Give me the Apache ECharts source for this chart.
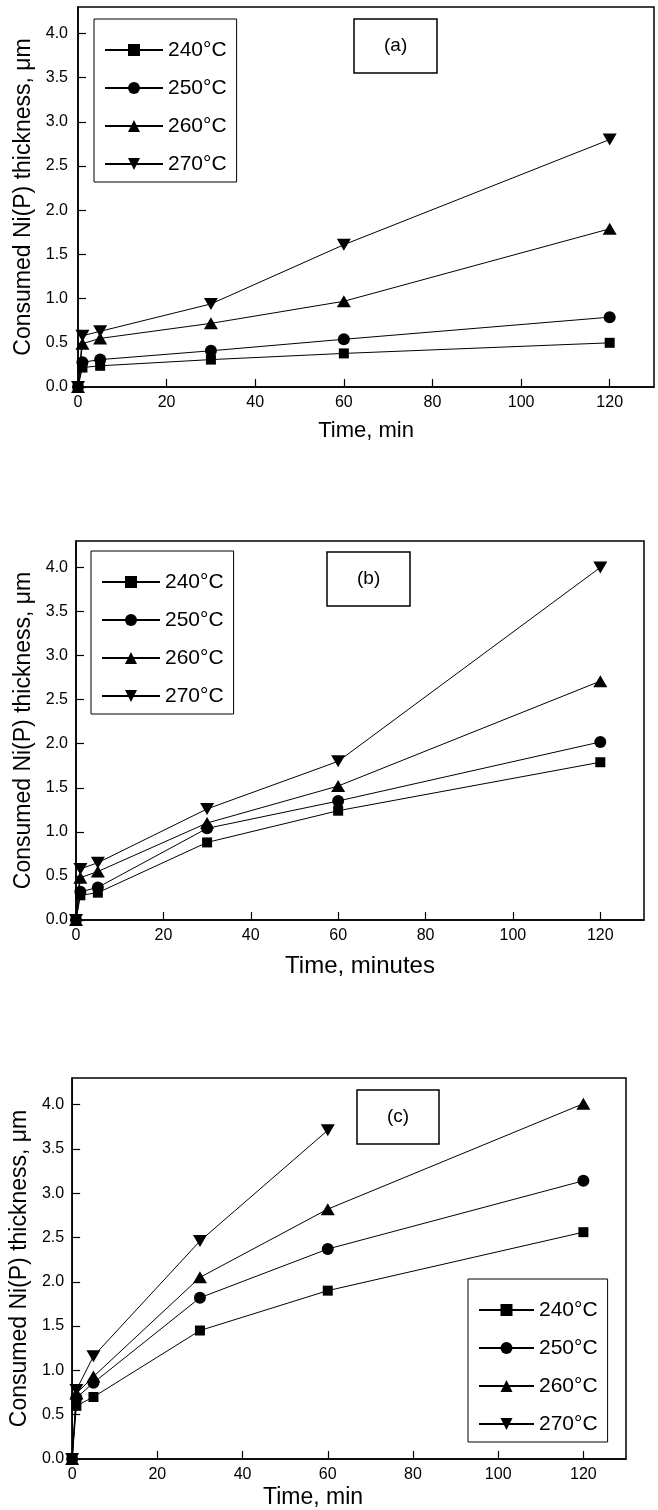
<!DOCTYPE html>
<html><head><meta charset="utf-8">
<script src="https://cdn.jsdelivr.net/npm/echarts@6/dist/echarts.min.js"></script>
<style>html,body{margin:0;padding:0;background:#fff}#c{width:658px;height:1510px}</style>
</head><body><div id="c"></div>
<script>
// ---- data ----
const times = [0, 1, 5, 30, 60, 120];
const seriesNames = ['240°C', '250°C', '260°C', '270°C'];
const panelLabels = ['(a)', '(b)', '(c)'];
const xTitles = ['Time, min', 'Time, minutes', 'Time, min'];
const yTitle = 'Consumed Ni(P) thickness, μm';
const xTickValues = [0, 20, 40, 60, 80, 100, 120];
const yTickValues = [0, 0.5, 1.0, 1.5, 2.0, 2.5, 3.0, 3.5, 4.0];

const a240 = [0, 0.22, 0.24, 0.31, 0.38, 0.50];
const a250 = [0, 0.28, 0.31, 0.41, 0.54, 0.79];
const a260 = [0, 0.49, 0.55, 0.72, 0.97, 1.79];
const a270 = [0, 0.58, 0.63, 0.94, 1.61, 2.80];

const b240 = [0, 0.28, 0.31, 0.88, 1.24, 1.79];
const b250 = [0, 0.32, 0.37, 1.04, 1.35, 2.02];
const b260 = [0, 0.48, 0.55, 1.10, 1.52, 2.71];
const b270 = [0, 0.58, 0.65, 1.26, 1.80, 4.00];

const c240 = [0, 0.60, 0.70, 1.45, 1.90, 2.56];
const c250 = [0, 0.69, 0.86, 1.82, 2.37, 3.14];
const c260 = [0, 0.74, 0.93, 2.05, 2.82, 4.01];
const c270 = [0, 0.78, 1.16, 2.46, 3.71];

// ---- styling / layout ----
const FONT = "'Liberation Sans', Arial, Helvetica, sans-serif";
const panels = [
  {data: [a240, a250, a260, a270], grid: {left: 78, top: 7, width: 576, height: 380},
   yNameGap: 39, yLabelMargin: 10, xNameGap: 33, xNameSize: 22, xNamePad: [0,0,0,0],
   legend: {left: 94, top: 19, itemWidth: 58},
   label: {left: 354, top: 19}},
  {data: [b240, b250, b260, b270], grid: {left: 76, top: 541, width: 568, height: 379},
   yNameGap: 37, yLabelMargin: 8, xNameGap: 34, xNameSize: 24, xNamePad: [0,0,0,0],
   legend: {left: 91, top: 551, itemWidth: 58},
   label: {left: 327, top: 552}},
  {data: [c240, c250, c260, c270], grid: {left: 70, top: 1078, width: 556, height: 381},
   yNameGap: 34, yLabelMargin: 8, xNameGap: 27, xNameSize: 23, xNamePad: [0,72,0,0],
   legend: {left: 468, top: 1279, itemWidth: 55},
   label: {left: 357, top: 1090}}
];
const symbols = [
  {symbol: 'rect', size: 10},
  {symbol: 'circle', size: 12},
  {symbol: 'triangle', size: [14, 12]},
  {symbol: 'path://M0,0L14,0L7,12Z', size: [14, 12]}
];

const option = {
  animation: false,
  backgroundColor: '#fff',
  textStyle: {fontFamily: FONT, color: '#000'},
  grid: [], xAxis: [], yAxis: [], series: [], legend: [], title: []
};

panels.forEach((p, pi) => {
  option.grid.push(Object.assign({show: true, borderColor: '#000', borderWidth: 1.5, backgroundColor: 'transparent'}, p.grid));
  option.xAxis.push({
    type: 'value', gridIndex: pi, min: 0, max: 130,
    name: xTitles[pi], nameLocation: 'middle', nameGap: p.xNameGap,
    nameTextStyle: {fontSize: p.xNameSize, color: '#000', fontFamily: FONT, padding: p.xNamePad},
    axisLine: {show: true, lineStyle: {color: '#000', width: 1.5}},
    axisTick: {show: true, inside: true, length: 8, lineStyle: {color: '#000', width: 1.2}, customValues: xTickValues},
    axisLabel: {show: true, color: '#000', fontSize: 16, fontFamily: FONT, margin: 8, customValues: xTickValues},
    splitLine: {show: false}
  });
  option.yAxis.push({
    type: 'value', gridIndex: pi, min: 0, max: 4.3,
    name: yTitle, nameLocation: 'middle', nameGap: p.yNameGap, nameRotate: 90,
    nameTextStyle: {fontSize: 23, color: '#000', fontFamily: FONT},
    axisLine: {show: true, lineStyle: {color: '#000', width: 1.5}},
    axisTick: {show: true, inside: true, length: 8, lineStyle: {color: '#000', width: 1.2}, customValues: yTickValues},
    axisLabel: {show: true, color: '#000', fontSize: 16, fontFamily: FONT, margin: p.yLabelMargin,
      customValues: yTickValues, formatter: v => v.toFixed(1)},
    splitLine: {show: false}
  });
  p.data.forEach((arr, si) => {
    option.series.push({
      type: 'line', name: seriesNames[si], xAxisIndex: pi, yAxisIndex: pi,
      data: arr.map((v, i) => [times[i], v]),
      symbol: symbols[si].symbol, symbolSize: symbols[si].size, showSymbol: true,
      color: '#000',
      itemStyle: {color: '#000', borderWidth: 0},
      lineStyle: {color: '#000', width: 1},
      emphasis: {disabled: true}, silent: true, z: 2 + si
    });
  });
  option.legend.push({
    orient: 'vertical', left: p.legend.left, top: p.legend.top,
    itemWidth: p.legend.itemWidth, itemHeight: 15, itemGap: 16,
    padding: [20, 10, 7, 10], borderColor: '#000', borderWidth: 1,
    backgroundColor: '#fff',
    selectedMode: false,
    textStyle: {fontSize: 21, color: '#000', fontFamily: FONT, lineHeight: 22},
    data: seriesNames
  });
  option.title.push({
    text: panelLabels[pi], left: p.label.left, top: p.label.top,
    padding: [16, 30, 16, 30], borderColor: '#000', borderWidth: 1.5,
    textStyle: {fontSize: 19, fontWeight: 'normal', color: '#000', fontFamily: FONT, lineHeight: 22}
  });
});

const chart = echarts.init(document.getElementById('c'), null, {renderer: 'canvas'});
chart.setOption(option);
</script>
</body></html>
